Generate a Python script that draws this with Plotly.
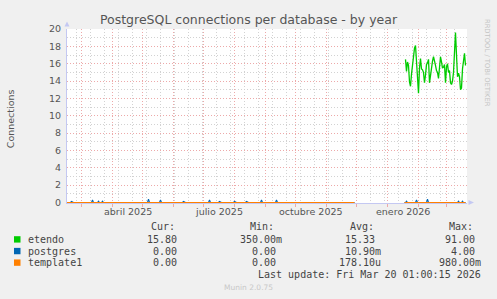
import plotly.graph_objects as go
import pandas as pd
import numpy as np

# ---------------- data ----------------
etendo_start = "2026-01-19"
etendo_values = [16.5, 15.1, 16.2, 15.8, 13.9, 13.4, 14.8, 16.0, 17.0, 17.8,
                 18.1, 16.2, 14.6, 12.6, 15.5, 16.6, 15.4, 15.3, 15.0, 13.8,
                 14.7, 15.9, 16.1, 16.5, 13.8, 14.8, 15.8, 16.3, 16.8, 16.4,
                 15.8, 15.2, 15.0, 14.3, 15.9, 16.8, 16.2, 15.5, 15.6, 15.9,
                 13.8, 15.6, 16.0, 15.0, 15.2, 13.8, 13.6, 14.0, 15.0, 17.5,
                 19.6, 17.0, 14.5, 14.9, 14.5, 13.0, 13.2, 15.4, 16.3, 17.2,
                 15.8]

# periods in which postgres / template1 report (value 0 otherwise)
coverage_starts = ["2025-02-14", "2026-01-18"]
coverage_ends = ["2025-11-29", "2026-03-20"]

postgres_spike_dates = ["2025-02-19", "2025-03-12", "2025-03-18", "2025-03-22",
                        "2025-05-07", "2025-05-19", "2025-06-11", "2025-07-07",
                        "2025-07-17", "2025-08-01", "2025-08-13", "2025-08-28",
                        "2025-09-12", "2026-01-20", "2026-01-30", "2026-02-10",
                        "2026-03-13", "2026-03-17"]
postgres_spike_values = [0.12, 0.3, 0.15, 0.15, 0.4, 0.3, 0.12, 0.3, 0.12, 0.12,
                         0.12, 0.3, 0.3, 0.15, 0.3, 0.4, 0.15, 0.15]
template1_level = 0.0

series_names = ["etendo", "postgres", "template1"]
series_colors = ["#00CC00", "#0066B3", "#FF8000"]
col_headers = ["Cur:", "Min:", "Avg:", "Max:"]
stats = [["15.80", "350.00m", "15.33", "91.00"],
         ["0.00", "0.00", "10.90m", "4.00"],
         ["0.00", "0.00", "178.10u", "980.00m"]]

month_labels = ["abril 2025", "julio 2025", "octubre 2025", "enero 2026"]
month_label_pos = ["2025-04-16", "2025-07-16", "2025-10-16", "2026-01-16"]

title = "PostgreSQL connections per database - by year"
last_update = "Last update: Fri Mar 20 01:00:15 2026"

# ---------------- build series ----------------
et_x = pd.date_range(etendo_start, periods=len(etendo_values), freq="D")

cov_x, pg_y, t1_y = [], [], []
spikes = dict(zip(pd.to_datetime(postgres_spike_dates), postgres_spike_values))
for s, e in zip(coverage_starts, coverage_ends):
    rng = pd.date_range(s, e, freq="D")
    for d in rng:
        cov_x.append(d)
        pg_y.append(spikes.get(d, 0.0))
        t1_y.append(template1_level)
    cov_x.append(rng[-1] + pd.Timedelta(hours=12))
    pg_y.append(None)
    t1_y.append(None)

# ---------------- layout geometry ----------------
W, H = 497, 299
L, R, T, B = 67, 30, 29, 95.5
PW, PH = W - L - R, H - T - B


def px(x):
    return (x - L) / PW


def py(y):
    return (T + PH - y) / PH


fig = go.Figure()
fig.add_trace(go.Scatter(x=et_x, y=etendo_values, mode="lines",
                         line=dict(color=series_colors[0], width=1.3), name="etendo"))
fig.add_trace(go.Scatter(x=cov_x, y=pg_y, mode="lines",
                         line=dict(color=series_colors[1], width=1.1), name="postgres"))
fig.add_trace(go.Scatter(x=cov_x, y=t1_y, mode="lines",
                         line=dict(color=series_colors[2], width=1), name="template1"))

pink = "#EDA9A9"
grey = "#D2D2D2"
lav = "#C4C8F2"
dots = "1px,2px"

fig.update_xaxes(
    type="date", range=["2025-02-14 12:00", "2026-03-21 12:00"],
    tickmode="linear", tick0="2025-01-01", dtick="M1",
    showticklabels=False, showgrid=True, gridcolor=pink, griddash=dots, gridwidth=1,
    ticks="outside", ticklen=3, tickcolor=pink, tickwidth=1,
    minor=dict(tick0="2026-01-12", dtick=14 * 86400000, showgrid=True,
               gridcolor=grey, griddash=dots, gridwidth=1, ticks=""),
    showline=True, linecolor=lav, linewidth=1, zeroline=False, layer="below traces",
    fixedrange=True,
)
fig.update_yaxes(
    range=[-0.0575, 20], tickmode="linear", tick0=0, dtick=2,
    showgrid=True, gridcolor=pink, griddash=dots, gridwidth=1,
    minor=dict(dtick=1, showgrid=True, gridcolor=grey, griddash=dots, gridwidth=1, ticks=""),
    ticks="outside", ticklen=3, tickcolor="#F0F0F0",
    tickfont=dict(family="DejaVu Sans", size=9.5, color="#555555"),
    showline=True, linecolor=lav, linewidth=1, zeroline=False, layer="below traces",
    fixedrange=True,
)

ann = []
# month labels
for lab, pos in zip(month_labels, month_label_pos):
    ann.append(dict(x=pos, xref="x", y=py(212.5), yref="paper", text=lab,
                    showarrow=False, xanchor="center", yanchor="middle",
                    font=dict(family="DejaVu Sans", size=9.5, color="#555555")))
# y title
ann.append(dict(x=px(10.5), y=py(119), xref="paper", yref="paper", text="Connections",
                textangle=-90, showarrow=False, xanchor="center", yanchor="middle",
                font=dict(family="DejaVu Sans", size=9.5, color="#555555")))
# rrdtool credit
ann.append(dict(x=px(487), y=py(63), xref="paper", yref="paper",
                text="RRDTOOL / TOBI OETIKER", textangle=90, showarrow=False,
                xanchor="center", yanchor="middle",
                font=dict(family="DejaVu Sans", size=6.8, color="#C4C4C4")))

mono = "DejaVu Sans Mono"
cw = 6.02
legend_color = "#444444"
header_left = [149, 248, 348, 447]
num_right = [179, 278.3, 376.7, 476.7]
row_y = [240, 251.7, 263.3]
for i, h in enumerate(col_headers):
    ann.append(dict(x=px(header_left[i]), y=py(227.3), xref="paper", yref="paper", text=h,
                    showarrow=False, xanchor="left", yanchor="middle",
                    font=dict(family=mono, size=10, color=legend_color)))
shapes = []
for r, name in enumerate(series_names):
    ann.append(dict(x=px(26), y=py(row_y[r]), xref="paper", yref="paper", text=name,
                    showarrow=False, xanchor="left", yanchor="middle",
                    font=dict(family=mono, size=10, color=legend_color)))
    shapes.append(dict(type="rect", xref="paper", yref="paper",
                       x0=px(14), x1=px(20.5), y0=py(row_y[r] + 3.2), y1=py(row_y[r] - 3.2),
                       fillcolor=series_colors[r], line=dict(width=0)))
    for c, v in enumerate(stats[r]):
        right = num_right[c] + (cw if v[-1].isalpha() else 0)
        ann.append(dict(x=px(right), y=py(row_y[r]), xref="paper", yref="paper", text=v,
                        showarrow=False, xanchor="right", yanchor="middle",
                        font=dict(family=mono, size=10, color=legend_color)))
ann.append(dict(x=px(482.7), y=py(275.7), xref="paper", yref="paper", text=last_update,
                showarrow=False, xanchor="right", yanchor="middle",
                font=dict(family=mono, size=10, color=legend_color)))
ann.append(dict(x=px(248), y=py(288.3), xref="paper", yref="paper", text="Munin 2.0.75",
                showarrow=False, xanchor="center", yanchor="middle",
                font=dict(family="DejaVu Sans", size=7.5, color="#C8C8C8")))

# axis arrows
shapes.append(dict(type="path", xref="paper", yref="paper",
                   path=f"M {px(64.5)},{py(26.5)} L {px(69.5)},{py(26.5)} L {px(67)},{py(21.5)} Z",
                   fillcolor=lav, line=dict(width=0)))
shapes.append(dict(type="path", xref="paper", yref="paper",
                   path=f"M {px(468.5)},{py(200.5)} L {px(468.5)},{py(205.5)} L {px(474)},{py(203)} Z",
                   fillcolor=lav, line=dict(width=0)))

fig.update_layout(
    width=W, height=H, margin=dict(l=L, r=R, t=T, b=B, pad=0),
    paper_bgcolor="#F0F0F0", plot_bgcolor="#FFFFFF",
    showlegend=False,
    title=dict(text=title, x=0.5, xanchor="center", y=1 - 19.5 / H, yanchor="middle",
               font=dict(family="DejaVu Sans", size=12.5, color="#555555")),
    annotations=ann, shapes=shapes,
)

fig.write_html("out.html", config={"displayModeBar": False})
